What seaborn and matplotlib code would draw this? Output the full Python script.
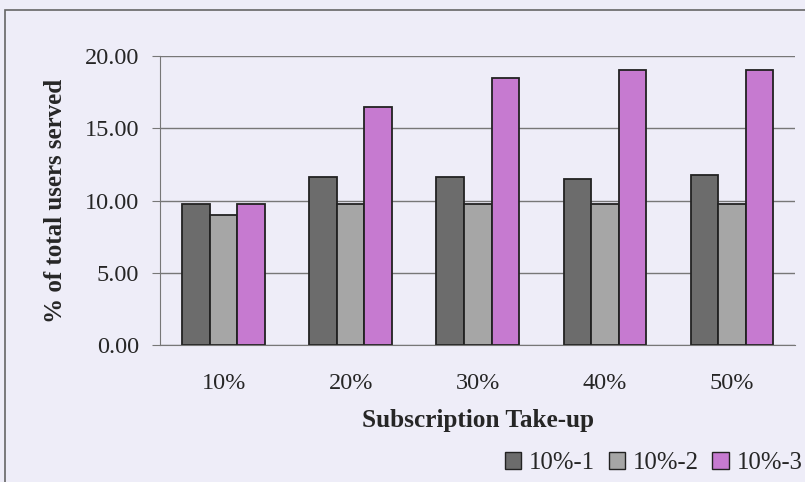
import pandas as pd
import numpy as np
import matplotlib.pyplot as plt
import seaborn as sns

# values
takeup = ["10%", "20%", "30%", "40%", "50%"]
s1 = [9.76, 11.65, 11.65, 11.5, 11.78]
s2 = [9.0, 9.76, 9.76, 9.76, 9.76]
s3 = [9.76, 16.47, 18.5, 19.0, 19.0]
series = ["10%-1", "10%-2", "10%-3"]
colors = ["#6c6c6c", "#a6a6a6", "#c67ad0"]

df = pd.DataFrame({
    "takeup": takeup * 3,
    "value": s1 + s2 + s3,
    "series": [series[0]] * 5 + [series[1]] * 5 + [series[2]] * 5,
})

sns.set_style("white")
plt.rcParams['font.family'] = ['Liberation Serif', 'DejaVu Serif']
bg = "#eeedf8"
fs = 17.5

fig = plt.figure(figsize=(8.05, 4.82), dpi=100, facecolor=bg)
ax = fig.add_axes([0.199, 0.284, 0.789, 0.6])
ax.set_facecolor(bg)

sns.barplot(data=df, x="takeup", y="value", hue="series", order=takeup,
            hue_order=series, palette=colors, saturation=1, width=0.65,
            edgecolor="#222222", linewidth=1.3, ax=ax, legend=False)

ax.set_ylim(0, 20)
ax.set_xlim(-0.5, 4.5)
ax.set_yticks(np.arange(0, 20.01, 5))
ax.set_yticklabels([f"{v:.2f}" for v in np.arange(0, 20.01, 5)], fontsize=fs)
ax.yaxis.grid(True, color="#777777", linewidth=1)
ax.set_axisbelow(True)
ax.tick_params(axis="x", length=0, labelsize=fs, pad=20)
ax.set_xticks(np.arange(-0.5, 4.6, 1), minor=True)
ax.tick_params(axis="x", which="minor", length=5, color="#777777", direction="out")
ax.tick_params(axis="y", length=6, color="#777777", direction="out", left=True, pad=9)
for s in ["top", "right"]:
    ax.spines[s].set_visible(False)
for s in ["left", "bottom"]:
    ax.spines[s].set_color("#777777")

ax.set_xlabel("Subscription Take-up", fontsize=18.2, fontweight="bold")
ax.set_ylabel("% of total users served", fontsize=18, fontweight="bold")
ax.xaxis.set_label_coords(0.5, -0.26)
ax.xaxis.label.set_va("center")
ax.yaxis.set_label_coords(-0.165, 0.5)
ax.yaxis.label.set_va("center")

handles = [plt.Rectangle((0, 0), 1, 1, facecolor=c, edgecolor="#222222") for c in colors]
fig.legend(handles, series, loc="center right", bbox_to_anchor=(0.997, 0.039), ncol=3,
           frameon=False, fontsize=17.8, handlelength=0.65, handleheight=0.65,
           handletextpad=0.33, columnspacing=0.55, borderaxespad=0.0, borderpad=0.0)

# outer frame of the scanned chart
fig.patches.append(plt.Rectangle((0.006, -0.01), 1.1, 0.99, transform=fig.transFigure,
                                 fill=False, edgecolor="#666666", linewidth=1.2))

fig.savefig("out.png", dpi=100, facecolor=bg)
